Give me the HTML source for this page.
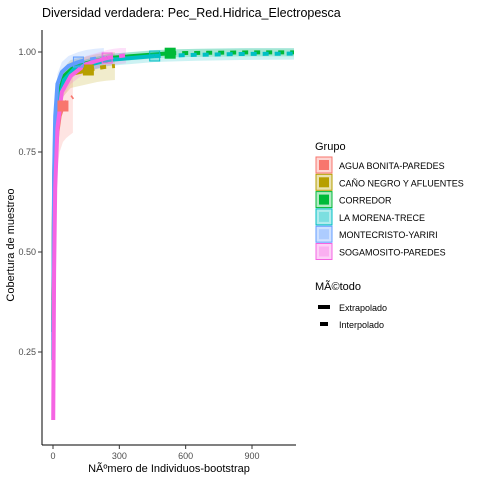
<!DOCTYPE html>
<html><head><meta charset="utf-8"><style>
body{margin:0;background:#fff;}
svg text{font-family:"Liberation Sans",sans-serif;}
</style></head><body>
<svg id="chart" width="480" height="480" viewBox="0 0 480 480">
<rect width="480" height="480" fill="#fff"/>
<text x="42" y="17" font-size="12.5" fill="#000">Diversidad verdadera: Pec_Red.Hidrica_Electropesca</text>
<g id="ribbons"></g><g id="lines"></g><g id="markers"></g>
<line x1="42" y1="30" x2="42" y2="445" stroke="#000" stroke-width="1"/>
<line x1="42" y1="445" x2="296" y2="445" stroke="#000" stroke-width="1"/>
<g id="axes"></g>
<text x="14" y="245" font-size="11" transform="rotate(-90 14 245)" text-anchor="middle">Cobertura de muestreo</text>
<text x="169" y="472" font-size="11" text-anchor="middle">NÃºmero de Individuos-bootstrap</text>
<g>
<text x="315" y="150" font-size="11">Grupo</text>
<g id="leg"></g>
<text x="315" y="290" font-size="11">MÃ©todo</text>
<g><line x1="318" y1="307" x2="330" y2="307" stroke="#000" stroke-width="4"/><text x="339" y="311" font-size="9">Extrapolado</text></g>
<g><line x1="320" y1="324" x2="328" y2="324" stroke="#000" stroke-width="4"/><text x="339" y="328" font-size="9">Interpolado</text></g>
</g>
</svg>
<script>
const groups=["AGUA BONITA-PAREDES","CAÑO NEGRO Y AFLUENTES","CORREDOR","LA MORENA-TRECE","MONTECRISTO-YARIRI","SOGAMOSITO-PAREDES"];
const colors=["#F8766D","#B79F00","#00BA38","#00BFC4","#619CFF","#F564E3"];
const interpN=[[1,5,10,20,30,45],[1,5,10,20,40,80,160],[1,5,10,20,50,100,250,530],[1,5,10,20,50,100,250,460],[1,5,10,20,40,70,115],[1,5,10,20,40,80,150,245]];
const interpC=[[0.38,0.62,0.73,0.8,0.84,0.865],[0.33,0.68,0.8,0.88,0.92,0.945,0.955],[0.3,0.66,0.79,0.88,0.94,0.965,0.985,0.997],[0.23,0.62,0.76,0.86,0.93,0.96,0.98,0.99],[0.28,0.7,0.84,0.92,0.95,0.965,0.975],[0.08,0.45,0.66,0.81,0.9,0.94,0.97,0.985]];
const extrapN=[[45,60,75,90],[160,200,240,280],[530,700,900,1090],[460,650,850,1090],[115,150,190,230],[245,275,305,330]];
const extrapC=[[0.865,0.875,0.882,0.888],[0.955,0.96,0.963,0.965],[0.997,0.998,0.999,0.999],[0.99,0.993,0.995,0.996],[0.975,0.98,0.983,0.985],[0.985,0.988,0.99,0.992]];
const ribbonHalf=[0.09,0.035,0.01,0.015,0.025,0.02];
const xTicks=[0,300,600,900];
const yTicks=[0.25,0.5,0.75,1.0];
const yTickLabels=["0.25","0.50","0.75","1.00"];
const X=v=>53+v*0.2211, Y=v=>452-400*v;
const NS="http://www.w3.org/2000/svg";
function mk(t,a,p){const e=document.createElementNS(NS,t);for(const k in a)e.setAttribute(k,a[k]);p.appendChild(e);return e;}
const ax=document.getElementById('axes');
xTicks.forEach(v=>{const l=mk('line',{x1:X(v),x2:X(v),y1:445,y2:449,stroke:'#333'},ax);


const t=mk('text',{x:X(v),y:459,'font-size':9,'text-anchor':'middle',fill:'#4d4d4d'},ax);t.textContent=v;

});
yTicks.forEach((v,i)=>{const l=mk('line',{x1:38,x2:42,y1:Y(v),y2:Y(v),stroke:'#333'},ax);


const t=mk('text',{x:36,y:Y(v)+3,'font-size':9,'text-anchor':'end',fill:'#4d4d4d'},ax);t.textContent=yTickLabels[i];

});
const rb=document.getElementById('ribbons'),ln=document.getElementById('lines'),mkG=document.getElementById('markers');
groups.forEach((g,i)=>{
 const n=interpN[i].concat(extrapN[i].slice(1)),c=interpC[i].concat(extrapC[i].slice(1));
 const h=ribbonHalf[i];
 let up=n.map((v,k)=>X(v)+','+Y(Math.min(1.01,c[k]+h*(k>0?1:0.2)))),lo=n.map((v,k)=>X(v)+','+Y(c[k]-h*(k>0?1:0.2))).reverse();
 const r=mk('polygon',{points:up.concat(lo).join(' '),fill:colors[i],'fill-opacity':0.2},rb);
 
 
 const p1=mk('polyline',{points:interpN[i].map((v,k)=>X(v)+','+Y(interpC[i][k])).join(' '),fill:'none',stroke:colors[i],'stroke-width':4,'stroke-linejoin':'round'},ln);
 
 
 const p2=mk('polyline',{points:extrapN[i].map((v,k)=>X(v)+','+Y(extrapC[i][k])).join(' '),fill:'none',stroke:colors[i],'stroke-width':4,'stroke-dasharray':'6,6'},ln);
 
 
 const last=interpN[i].length-1;
 const m=mk('rect',{x:X(interpN[i][last])-5,y:Y(interpC[i][last])-5,width:10,height:10,fill:colors[i],'fill-opacity':[0,1,2].includes(i)?1:0.3,stroke:colors[i]},mkG);
 
 
 const lg=document.getElementById('leg');
 const y0=157+i*17.3;
 const e=mk('g',{},lg);
 
 
 mk('rect',{x:316,y:y0,width:16,height:16,fill:colors[i],'fill-opacity':0.3,stroke:colors[i]},e);
 mk('rect',{x:319,y:y0+3,width:10,height:10,fill:colors[i],'fill-opacity':[0,1,2].includes(i)?1:0.3},e);
 const t=mk('text',{x:339,y:y0+12,'font-size':9},e);t.textContent=g;
});
</script>
</body></html>
